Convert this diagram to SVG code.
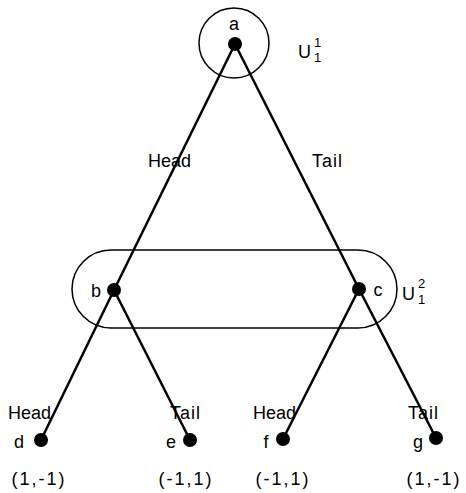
<svg xmlns="http://www.w3.org/2000/svg" width="466" height="493" viewBox="0 0 466 493">
<style>
.e{stroke:#000;stroke-width:2.5;fill:none}
.s{stroke:#000;stroke-width:1.5;fill:none}
.d{fill:#000}
text{font-family:"Liberation Sans",Arial,sans-serif;font-size:18px;fill:#000}
.m{text-anchor:middle}
.p{letter-spacing:2px}
.sup{font-size:13px}
</style>
<rect width="466" height="493" fill="#fff"/>
<g id="sets">
<circle class="s" cx="234" cy="43" r="35"/>
<rect class="s" x="72" y="250" width="325" height="78" rx="39"/>
<text x="298" y="58" font-size="20">U</text><text class="sup" x="314" y="47">1</text><text class="sup" x="314" y="62">1</text>
<text x="402" y="300" font-size="20">U</text><text class="sup" x="418" y="288">2</text><text class="sup" x="418" y="304">1</text>
</g>
<g id="connectors">
<line class="e" x1="235" y1="44" x2="114" y2="290"/>
<line class="e" x1="235" y1="44" x2="359" y2="289"/>
<line class="e" x1="114" y1="290" x2="41" y2="440"/>
<line class="e" x1="114" y1="290" x2="190" y2="440"/>
<line class="e" x1="359" y1="289" x2="283" y2="439"/>
<line class="e" x1="359" y1="289" x2="436" y2="438"/>
<text x="148" y="167">Head</text>
<text x="312" y="167" letter-spacing="1">Tail</text>
<text x="8" y="419">Head</text>
<text x="170" y="419" letter-spacing="1">Tail</text>
<text x="253" y="419">Head</text>
<text x="408" y="419" letter-spacing="1">Tail</text>
</g>
<g id="a"><circle class="d" cx="235" cy="44" r="7"/><text class="m" x="234" y="30">a</text></g>
<g id="b"><circle class="d" cx="114" cy="290" r="7"/><text class="m" x="96" y="297">b</text></g>
<g id="c"><circle class="d" cx="359" cy="289" r="7"/><text class="m" x="378" y="296">c</text></g>
<g id="d"><circle class="d" cx="41" cy="440" r="7"/><text class="m" x="19" y="448">d</text><text class="m p" x="39" y="485">(1,-1)</text></g>
<g id="e"><circle class="d" cx="190" cy="440" r="7"/><text class="m" x="171" y="448">e</text><text class="m p" x="186" y="485">(-1,1)</text></g>
<g id="f"><circle class="d" cx="283" cy="439" r="7"/><text class="m" x="266" y="448">f</text><text class="m p" x="283" y="485">(-1,1)</text></g>
<g id="g"><circle class="d" cx="436" cy="438" r="7"/><text class="m" x="418" y="448">g</text><text class="m p" x="434" y="485">(1,-1)</text></g>
</svg>
